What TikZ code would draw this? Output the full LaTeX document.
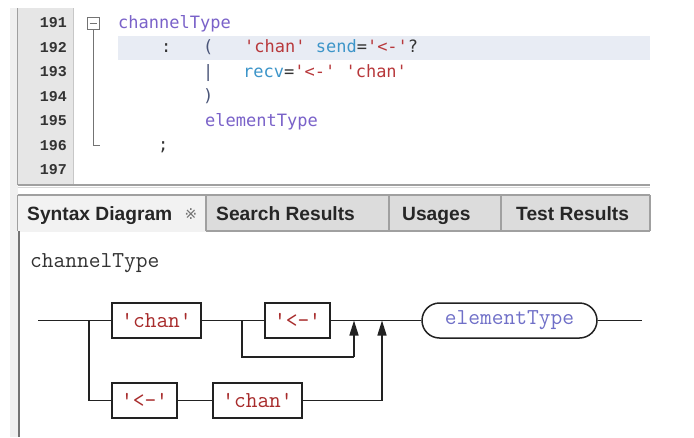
\documentclass[tikz,border=0pt]{standalone}
\usepackage{fontspec}
\usetikzlibrary{arrows.meta}
\newfontfamily\codefont{DejaVu Sans Mono}
\newfontfamily\numfont{Liberation Mono}[BoldFont={Liberation Mono Bold}]
\newfontfamily\tabfont{Liberation Sans}[BoldFont={Liberation Sans Bold}]
\newfontfamily\symfont{DejaVu Sans}
\newcommand\diafont{\ttfamily}
\definecolor{idcol}{HTML}{7A62C9}
\definecolor{strcol}{HTML}{B8383B}
\definecolor{kwcol}{HTML}{3D95C9}
\definecolor{opcol}{HTML}{333333}
\definecolor{parcol}{HTML}{4A5578}
\definecolor{gutter}{HTML}{E6E6E6}
\definecolor{hilite}{HTML}{E8ECF4}
\definecolor{border}{HTML}{A0A0A0}
\definecolor{tabon}{HTML}{F2F2F2}
\definecolor{taboff}{HTML}{DCDCDC}
\definecolor{boxtxt}{HTML}{A82C2C}
\definecolor{ovaltxt}{HTML}{7070C8}
\definecolor{rail}{HTML}{222222}
\tikzset{
  codetxt/.style={anchor=base west, inner sep=0pt, font=\codefont\fontsize{17}{17}\selectfont},
  lnum/.style={anchor=base east, inner sep=0pt, font=\numfont\bfseries\fontsize{15}{15}\selectfont, text=opcol},
  tabtxt/.style={anchor=base west, inner sep=0pt, font=\tabfont\bfseries\fontsize{19.2}{19.2}\selectfont, text=black!85},
  term/.style={draw=rail, line width=1.5pt, minimum height=35pt, inner sep=0pt, text=boxtxt, font=\diafont\fontsize{22.8}{22.8}\selectfont},
  nonterm/.style={term, rounded corners=17.5pt, text=ovaltxt},
  rl/.style={draw=rail, line width=1.5pt},
  uparr/.style={rl, -{Triangle[length=15pt,width=9pt]}},
}
\begin{document}
\begin{tikzpicture}[x=1pt,y=-1pt]
\useasboundingbox (0,0) rectangle (694,437);
\fill[white] (0,0) rectangle (694,437);
% left strip
\fill[black!6] (10,8) rectangle (17.5,437);
% code panel
\fill[gutter] (18,8) rectangle (73,185);
\draw[border, line width=1pt] (17.5,8) -- (17.5,185);
\draw[black!22, line width=1pt] (73.5,8) -- (73.5,185);
\fill[hilite] (118,36) rectangle (650,60);
\draw[border, line width=1.2pt] (17.5,185) -- (650,185);
\draw[black!15, line width=1pt] (17.5,187.5) -- (650,187.5);
% line numbers
\foreach \n/\y in {191/22,192/46.5,193/71,194/95.5,195/120,196/144.5,197/169}
  \node[lnum] (ln\n) at (67,\y+5.5) {\n};
% fold marker
\draw[black!55, line width=1pt, fill=white] (87,17) rectangle (99,29);
\draw[black!55, line width=1pt] (89.5,23) -- (96.5,23);
\draw[black!55, line width=1pt] (93,29) -- (93,145) -- (100,145);
% code
\node[codetxt, text=idcol] (c1) at (118,28) {channelType};
\node[codetxt, text=opcol] (c2a) at (161,52.5) {:};
\node[codetxt, text=parcol] (c2b) at (203,52.5) {(};
\node[codetxt] (c2c) at (244,52.5) {\textcolor{strcol}{'chan'} \textcolor{kwcol}{send}\textcolor{opcol}{=}\textcolor{strcol}{'<-'}\textcolor{opcol}{?}};
\node[codetxt, text=parcol] (c3a) at (203,77) {|};
\node[codetxt] (c3b) at (243,77) {\textcolor{kwcol}{recv}\textcolor{opcol}{=}\textcolor{strcol}{'<-'} \textcolor{strcol}{'chan'}};
\node[codetxt, text=parcol] (c4) at (203,101.5) {)};
\node[codetxt, text=idcol] (c5) at (205,126) {elementType};
\node[codetxt, text=opcol] (c6) at (158,150.5) {;};
% tab bar
\fill[taboff] (206,195) rectangle (650,231);
\fill[tabon] (18,195) rectangle (206,232);
\draw[border, line width=1.2pt] (17.5,195) -- (650,195);
\foreach \x in {206,389,501,650} \draw[border, line width=1.2pt] (\x,195) -- (\x,231);
\draw[border, line width=1.2pt] (206,231) -- (650,231);
\draw[border, line width=1pt] (17.5,195) -- (17.5,231);
\draw[black!55, line width=2pt] (18.5,231) -- (18.5,437);
\node[tabtxt] (t1) at (27,220) {Syntax Diagram};
\node[anchor=base, inner sep=0pt, font=\symfont\fontsize{15}{15}\selectfont, text=black!55] (t1x) at (191,219) {※};
\node[tabtxt] (t2) at (216,220) {Search Results};
\node[tabtxt] (t3) at (402,220) {Usages};
\node[tabtxt] (t4) at (516,220) {Test Results};
% diagram
\node[anchor=base west, inner sep=0pt, font=\diafont\fontsize{22.8}{22.8}\selectfont, text=opcol] (title) at (30,267) {channelType};
\node[term, minimum width=89pt] (chan1) at (156.5,320.5) {'chan'};
\node[term, minimum width=65pt] (larr1) at (297.5,320.5) {'<-'};
\node[term, minimum width=65pt] (larr2) at (144.5,400.5) {'<-'};
\node[term, minimum width=89pt] (chan2) at (257.5,400.5) {'chan'};
\node[nonterm, minimum width=175pt] (elem) at (509.5,320.5) {elementType};
\coordinate (start) at (38,320.5);
\coordinate (b1) at (89,320.5);
\coordinate (b2) at (242,320.5);
\coordinate (j1) at (354,320.5);
\coordinate (j1low) at (354,357);
\coordinate (j2) at (382,320.5);
\coordinate (stop) at (642,320.5);
\draw[rl] (start) -- (chan1.west);
\draw[rl] (b1) |- (larr2.west);
\draw[rl] (chan1.east) -- (larr1.west);
\draw[rl] (larr1.east) -- (elem.west);
\draw[rl] (larr2.east) -- (chan2.west);
\draw[rl] (elem.east) -- (stop);
\draw[rl] (b2) |- (j1low);
\draw[uparr] (j1low) -- (j1);
\draw[uparr] (chan2.east) -| (j2);
\end{tikzpicture}
\end{document}
